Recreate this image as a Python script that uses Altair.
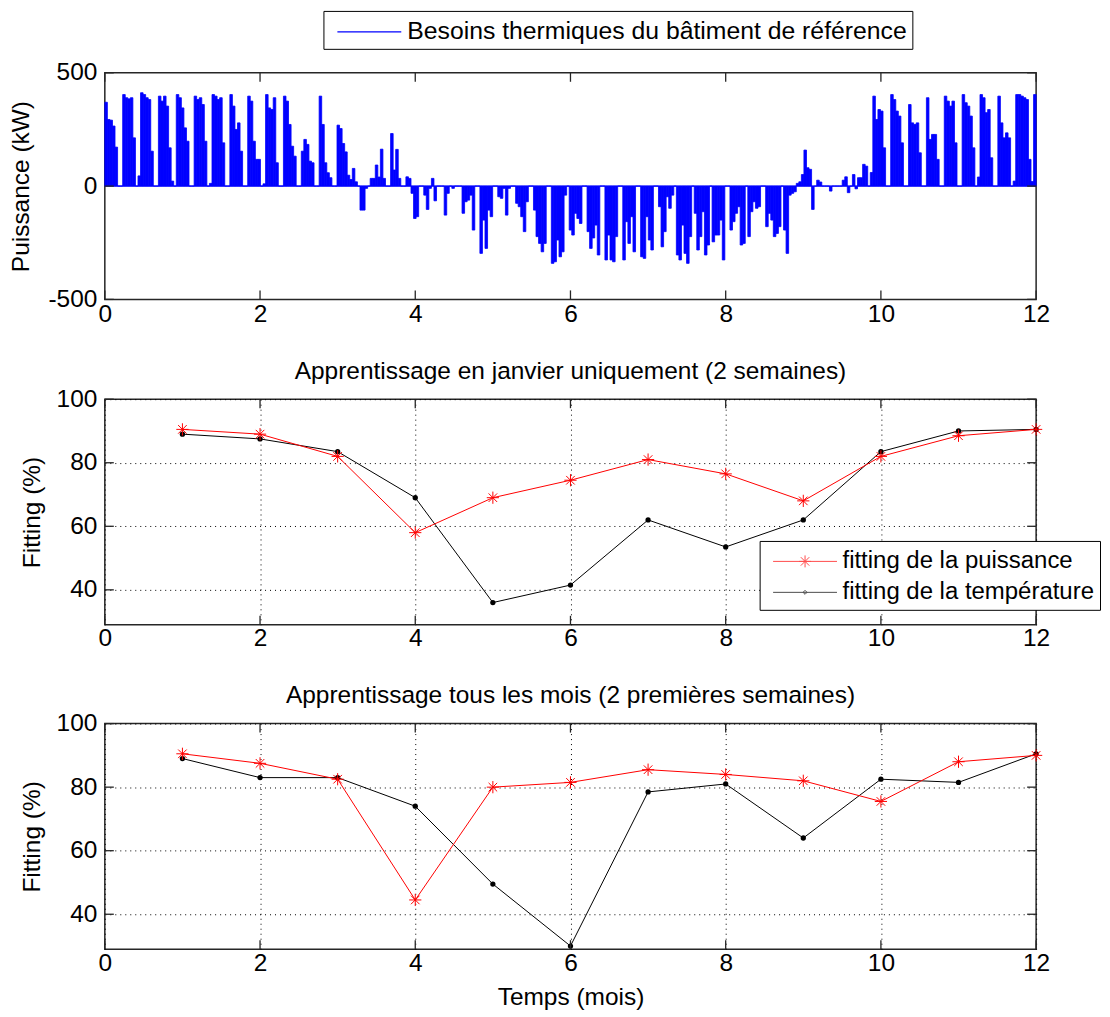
import altair as alt
import pandas as pd

FONT = "Liberation Sans"
FS = 24.5
FRAME = "#262626"
W = 933
H1, H2, H3 = 227, 226, 226
TL = 9  # inward tick length

# ---------------- data ----------------
months = [1, 2, 3, 4, 5, 6, 7, 8, 9, 10, 11, 12]
x_ticks = [0, 2, 4, 6, 8, 10, 12]
power_ticks = [-500, 0, 500]
fit_ticks = [40, 60, 80, 100]

SER_P = "fitting de la puissance"
SER_T = "fitting de la température"
SER_B = "Besoins thermiques du bâtiment de référence"

# Apprentissage en janvier uniquement (2 semaines)
jan_puissance = [90.5, 89.0, 82.0, 58.0, 69.0, 74.5, 81.0, 76.5, 68.0, 82.0, 88.5, 90.5]
jan_temperature = [89.0, 87.5, 83.5, 69.0, 36.0, 41.5, 62.0, 53.5, 62.0, 83.5, 90.0, 90.5]
# Apprentissage tous les mois (2 premières semaines)
tous_puissance = [90.5, 87.5, 82.5, 44.5, 80.0, 81.5, 85.5, 84.0, 82.0, 75.5, 88.0, 90.0]
tous_temperature = [89.0, 83.0, 83.0, 74.0, 49.5, 30.0, 78.5, 81.0, 64.0, 82.5, 81.5, 90.5]

# daily peak thermal need (kW), one row per week
power_weeks = [
    [370, 294, 291, 265, 172, 0, 0],
    [404, 390, 385, 390, 213, 0, 45],
    [412, 404, 390, 382, 154, 0, 0],
    [397, 375, 397, 353, 169, 22, 0],
    [404, 390, 345, 257, 198, 0, 0],
    [397, 382, 390, 360, 198, 0, 12],
    [404, 397, 382, 390, 191, 0, 0],
    [404, 353, 250, 279, 154, 0, 0],
    [397, 375, 198, 118, 118, 0, 10],
    [404, 345, 338, 390, 103, 0, 0],
    [397, 375, 272, 176, 132, 0, 0],
    [154, 206, 184, 110, 103, 0, 0],
    [397, 272, 103, 59, 37, 0, 0],
    [269, 254, 188, 151, 48, 29, 78],
    [19, 0, -106, -106, -10, 0, 34],
    [34, 93, 40, 163, 34, 0, 0],
    [232, 71, 162, 34, 0, 0, 41],
    [34, -32, -143, -135, 0, 0, -40],
    [-103, -10, 34, -65, 0, 0, 0],
    [-128, -32, 0, -10, 0, 0, 0],
    [-120, -69, -62, -40, -194, 0, 0],
    [-297, -150, -275, -106, -135, 0, 0],
    [-47, -54, -10, -128, -10, 0, 0],
    [-76, -91, -135, -201, -69, 0, 0],
    [-106, -223, -253, -290, -253, 0, 0],
    [-341, -334, -238, -312, -290, -40, 0],
    [-194, -216, -120, -143, -165, 0, 0],
    [-201, -275, -229, -172, -304, 0, 0],
    [-326, -216, -326, -334, -223, 0, 0],
    [-326, -157, -253, -135, -290, 0, 0],
    [-312, -319, -135, -238, -282, 0, 0],
    [-91, -268, -201, -47, -98, -40, 0],
    [-304, -326, -172, -297, -341, -223, 0],
    [-120, -282, -223, -113, -304, -260, 0],
    [-246, -216, -216, -150, -326, 0, 0],
    [-194, -157, -120, -91, -260, -253, 0],
    [-223, -113, -69, -98, -91, 0, 0],
    [-179, -120, -150, -223, -209, -179, 0],
    [-194, -297, -40, -32, -25, 12, 19],
    [51, 159, 81, 74, -103, 0, 26],
    [18, 0, 0, 0, -22, 0, 0],
    [0, 0, 26, 41, -29, 0, 51],
    [-12, 37, 37, 96, 88, 0, 60],
    [397, 294, 338, 331, 169, 0, 0],
    [404, 382, 331, 309, 191, 0, 0],
    [360, 279, 272, 279, 147, 0, 0],
    [390, 206, 228, 228, 118, 0, 0],
    [397, 375, 353, 375, 191, 0, 0],
    [404, 368, 353, 309, 169, 0, 40],
    [404, 390, 324, 338, 125, 0, 0],
    [397, 279, 213, 235, 213, 0, 22],
    [404, 404, 397, 390, 382, 118, 20],
    [404],
]

# ---------------- shapes ----------------
# legend symbols: size 900 -> unit = 15 px; line spans 8..72 px of the entry
ASTERISK = "M-1,0L1,0M0,-1L0,1M-0.7,-0.7L0.7,0.7M-0.7,0.7L0.7,-0.7"
LEG_RED = ("M-0.467,0L3.8,0M1.267,0L2.067,0M1.667,-0.4L1.667,0.4"
           "M1.384,-0.283L1.95,0.283M1.384,0.283L1.95,-0.283")
LEG_BLACK = "M-0.467,0L3.8,0M1.534,0L1.667,-0.133L1.8,0L1.667,0.133Z"
LEG_BLUE = "M-0.467,0L3.8,0"
LABEL_EXPR = "'' + datum.value"


def inward_ticks(xfield, yfield, X, Y, xvals, yvals, h):
    tx = pd.DataFrame({xfield: xvals})
    ty = pd.DataFrame({yfield: yvals})
    rk = dict(color=FRAME, strokeWidth=1.3)
    top = alt.Chart(tx).mark_rule(**rk).encode(x=X, y=alt.value(0), y2=alt.value(TL))
    bot = alt.Chart(tx).mark_rule(**rk).encode(x=X, y=alt.value(h - TL), y2=alt.value(h))
    left = alt.Chart(ty).mark_rule(**rk).encode(y=Y, x=alt.value(0), x2=alt.value(TL))
    right = alt.Chart(ty).mark_rule(**rk).encode(y=Y, x=alt.value(W - TL), x2=alt.value(W))
    return [top, bot, left, right]


# ---------------- top panel ----------------
power = [v for week in power_weeks for v in week]
n_days = len(power)
df_p = pd.DataFrame({
    "mois": [d * 12 / n_days for d in range(n_days)],
    "mois_fin": [(d + 1) * 12 / n_days for d in range(n_days)],
    "puissance": power,
})

xs1 = alt.Scale(domain=[0, 12], nice=False, zero=False)
ys1 = alt.Scale(domain=[-500, 500], nice=False, zero=False)
xax1 = alt.Axis(values=x_ticks, grid=False, ticks=False, domain=False, labelPadding=3,
                labelFlush=False, title=None, labelExpr=LABEL_EXPR)
yax1 = alt.Axis(values=power_ticks, grid=False, ticks=False, domain=False, labelPadding=8,
                title="Puissance (kW)", titlePadding=14, labelExpr=LABEL_EXPR)
X1 = alt.X("mois:Q", scale=xs1, axis=xax1)
Y1 = alt.Y("puissance:Q", scale=ys1, axis=yax1)

bars = alt.Chart(df_p).mark_rect(color="#0000ff", stroke="#0000ff", strokeWidth=0.8).encode(
    x=X1, x2="mois_fin:Q", y=Y1, y2=alt.datum(0)
)
leg_top = alt.Legend(title=None, orient="none", legendX=219, legendY=-62, strokeColor="black",
                     fillColor="white", padding=5, symbolType=LEG_BLUE, symbolSize=900,
                     symbolStrokeWidth=1.2, symbolStrokeColor="#0000ff", labelOffset=47,
                     labelLimit=800, labelFontSize=24.8)
zero_line = alt.Chart(pd.DataFrame({"serie": [SER_B]})).mark_rule(strokeWidth=1).encode(
    y=alt.datum(0, scale=ys1),
    color=alt.Color("serie:N", scale=alt.Scale(domain=[SER_B], range=["#0000ff"]), legend=leg_top),
)
top_panel = alt.layer(
    bars, zero_line, *inward_ticks("mois", "puissance", X1, Y1, x_ticks, power_ticks, H1)
).properties(width=W, height=H1)


# ---------------- fitting panels ----------------
def fit_panel(p_vals, t_vals, title, h, with_legend, xtitle):
    df = pd.DataFrame({
        "mois": months * 2,
        "fitting": p_vals + t_vals,
        "serie": [SER_P] * 12 + [SER_T] * 12,
    })
    xs = alt.Scale(domain=[0, 12], nice=False, zero=False)
    ys = alt.Scale(domain=[29, 100], nice=False, zero=False)
    xax = alt.Axis(values=x_ticks, grid=True, ticks=False, domain=False, labelPadding=2,
                   labelFlush=False, title=xtitle, titlePadding=11, labelExpr=LABEL_EXPR)
    yax = alt.Axis(values=fit_ticks, grid=True, ticks=False, domain=False, labelPadding=8,
                   title="Fitting (%)", titlePadding=12, labelExpr=LABEL_EXPR)
    X = alt.X("mois:Q", scale=xs, axis=xax)
    Y = alt.Y("fitting:Q", scale=ys, axis=yax)
    base = alt.Chart(df)
    layers = []
    for ser, col in [(SER_T, "#000000"), (SER_P, "#ff0000")]:
        sub = base.transform_filter(alt.datum.serie == ser)
        layers.append(sub.mark_line(color=col, strokeWidth=1).encode(x=X, y=Y))
    sub_t = base.transform_filter(alt.datum.serie == SER_T)
    layers.append(sub_t.mark_point(shape="circle", filled=True, color="#000000", size=28, opacity=1).encode(x=X, y=Y))
    sub_p = base.transform_filter(alt.datum.serie == SER_P)
    layers.append(sub_p.mark_point(shape=ASTERISK, filled=False, color="#ff0000", size=150,
                                   strokeWidth=1, opacity=1).encode(x=X, y=Y))
    if with_legend:
        leg = alt.Legend(title=None, orient="none", legendX=656, legendY=142, strokeColor="black",
                         fillColor="white", padding=5, symbolSize=900, symbolStrokeWidth=1,
                         labelOffset=47, rowPadding=3, labelLimit=800, labelFontSize=24)
        layers.append(
            base.transform_filter("false").mark_point(filled=False, strokeWidth=1).encode(
                x=X, y=Y,
                color=alt.Color("serie:N", scale=alt.Scale(domain=[SER_P, SER_T], range=["#ff0000", "#000000"]), legend=leg),
                shape=alt.Shape("serie:N", scale=alt.Scale(domain=[SER_P, SER_T], range=[LEG_RED, LEG_BLACK]), legend=leg),
            )
        )
    layers += inward_ticks("mois", "fitting", X, Y, x_ticks, fit_ticks, h)
    return alt.layer(*layers).properties(
        width=W, height=h,
        title=alt.TitleParams(text=title, offset=2, frame="group", anchor="middle"),
    )


mid_panel = fit_panel(jan_puissance, jan_temperature,
                      "Apprentissage en janvier uniquement (2 semaines)", H2, True, None)
bot_panel = fit_panel(tous_puissance, tous_temperature,
                      "Apprentissage tous les mois (2 premières semaines)", H3, False, "Temps (mois)")

chart = alt.vconcat(top_panel, mid_panel, bot_panel, spacing=30).resolve_scale(
    color="independent", shape="independent"
).resolve_legend(
    color="independent", shape="independent"
).properties(
    padding=0, background="white"
).configure_view(
    stroke=FRAME, strokeWidth=1.5
).configure_axis(
    labelFont=FONT, labelFontSize=FS, labelColor="black",
    titleFont=FONT, titleFontSize=FS, titleFontWeight="normal", titleColor="black",
    gridColor="black", gridDash=[1, 4], gridWidth=1, gridOpacity=1,
).configure_legend(
    labelFont=FONT, labelFontSize=FS, labelColor="black", cornerRadius=0,
).configure_title(
    font=FONT, fontSize=FS, fontWeight="normal", color="black",
)

chart.save("out.html", embed_options={"renderer": "svg", "actions": False})
